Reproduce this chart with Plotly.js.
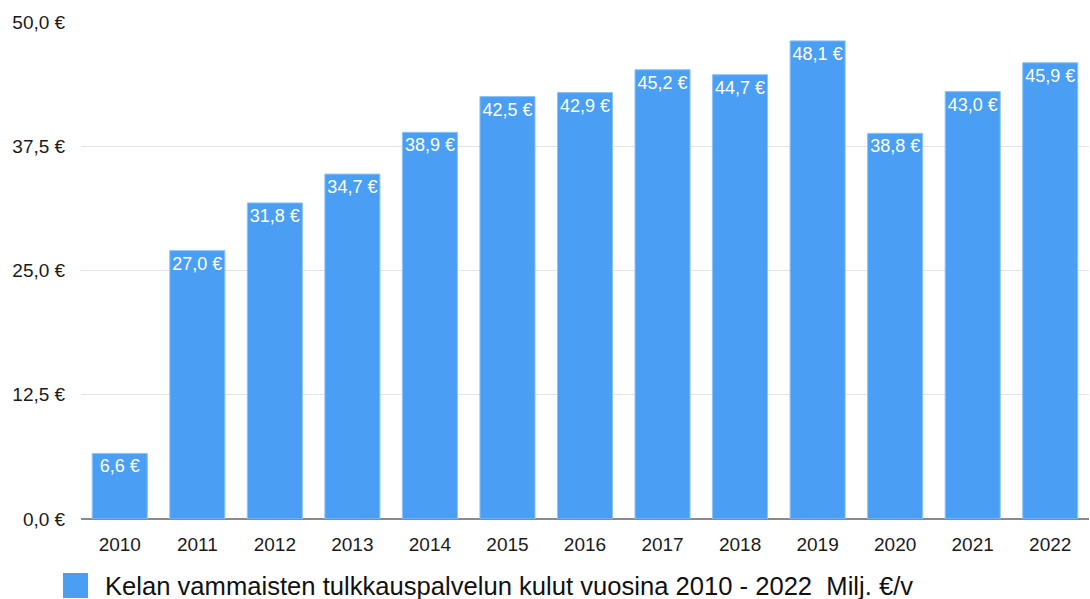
<!DOCTYPE html>
<html>
<head>
<meta charset="utf-8">
<script src="https://cdn.plot.ly/plotly-3.0.1.min.js"></script>
<style>html,body{margin:0;padding:0;background:#fff;}#chart{width:1090px;height:599px;}</style>
</head>
<body>
<div id="chart"></div>
<script>
const years = ["2010","2011","2012","2013","2014","2015","2016","2017","2018","2019","2020","2021","2022"];
const costs = [6.6, 27.0, 31.8, 34.7, 38.9, 42.5, 42.9, 45.2, 44.7, 48.1, 38.8, 43.0, 45.9];
const yTicks = [0, 12.5, 25, 37.5, 50];
const yTickLabels = ["0,0 €", "12,5 €", "25,0 €", "37,5 €", "50,0 €"];
const seriesName = "Kelan vammaisten tulkkauspalvelun kulut vuosina 2010 - 2022  Milj. €/v";

const font = "Liberation Sans, Arial, Helvetica, sans-serif";

const trace = {
  type: "bar",
  x: years,
  y: costs,
  name: seriesName,
  marker: {color: "#4A9FF5", line: {color: "#8CC3F8", width: 1}},
  texttemplate: "%{y:.1f} €",
  textposition: "inside",
  insidetextanchor: "end",
  constraintext: "none",
  textangle: 0,
  textfont: {family: font, size: 18, color: "#ffffff"},
  hoverinfo: "x+y",
  width: 0.71
};

const layout = {
  width: 1090,
  height: 599,
  margin: {l: 81, r: 1, t: 22, b: 80},
  paper_bgcolor: "#ffffff",
  plot_bgcolor: "#ffffff",
  separators: ", ",
  showlegend: false,
  font: {family: font, size: 19, color: "#1a1a1a"},
  bargap: 0.29,
  xaxis: {
    type: "category",
    showgrid: false,
    zeroline: false,
    showline: false,
    ticks: "outside",
    ticklen: 8,
    tickcolor: "rgba(0,0,0,0)",
    tickfont: {family: font, size: 19, color: "#1a1a1a"}
  },
  yaxis: {
    range: [0, 50],
    tickmode: "array",
    tickvals: yTicks,
    ticktext: yTickLabels,
    showgrid: true,
    gridcolor: "#e3e3e3",
    gridwidth: 1,
    zeroline: true,
    zerolinecolor: "#8a8a8a",
    zerolinewidth: 1.5,
    ticks: "outside",
    ticklen: 11,
    tickcolor: "rgba(0,0,0,0)",
    tickfont: {family: font, size: 19, color: "#1a1a1a"}
  },
  shapes: [{
    type: "rect", xref: "paper", yref: "paper",
    x0: (63 - 81) / 1008, x1: (88 - 81) / 1008,
    y0: -(573 - 519) / 497, y1: -(598 - 519) / 497,
    fillcolor: "#4A9FF5", line: {width: 0}
  }],
  annotations: [{
    xref: "paper", yref: "paper",
    x: (103 - 81) / 1008, y: -(586 - 519) / 497,
    xanchor: "left", yanchor: "middle",
    text: seriesName, showarrow: false,
    font: {family: font, size: 25.6, color: "#111111"}
  }]
};

Plotly.newPlot("chart", [trace], layout, {displayModeBar: false, staticPlot: true});
</script>
</body>
</html>
